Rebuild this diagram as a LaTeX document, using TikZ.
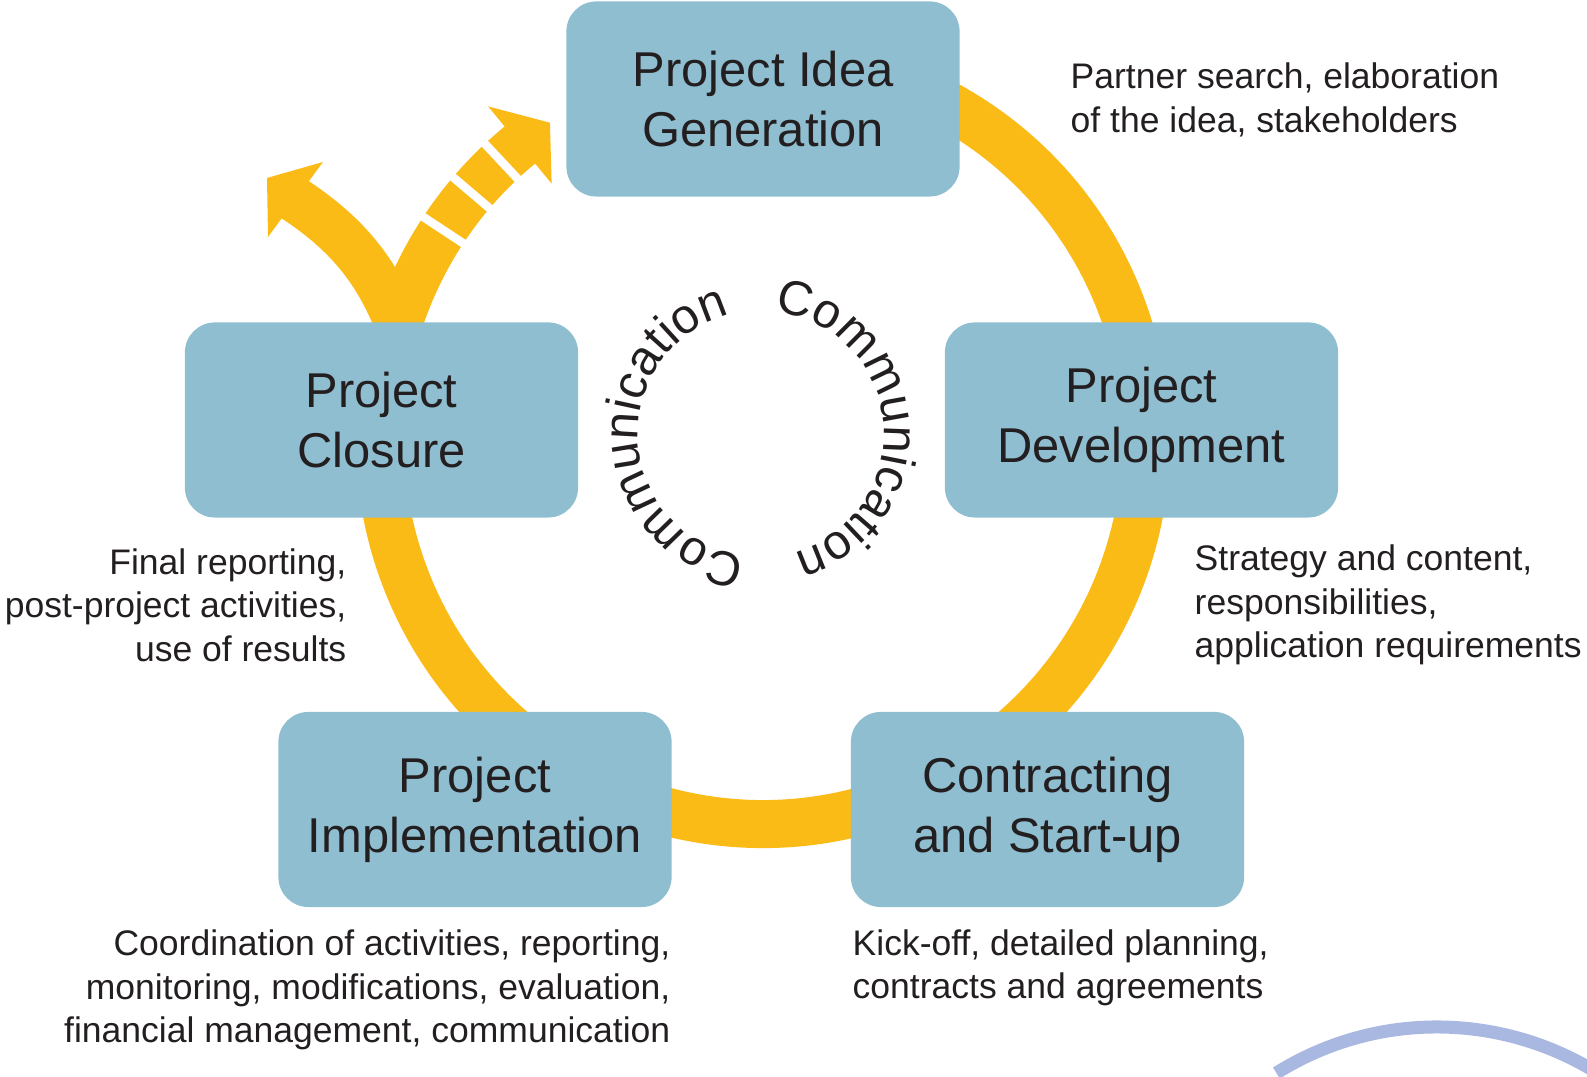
\documentclass[tikz,border=0pt]{standalone}
\usepackage{fontspec}
\setmainfont{Liberation Sans}
\usetikzlibrary{decorations.text}
\definecolor{boxblue}{RGB}{143,190,208}
\definecolor{ringyellow}{RGB}{250,187,22}
\definecolor{arcblue}{RGB}{169,184,225}
\definecolor{txt}{RGB}{35,31,32}
\begin{document}
\begin{tikzpicture}[x=0.01cm,y=0.01cm,
  phase/.style={fill=boxblue, rounded corners=0.3cm, minimum width=3.93cm, minimum height=1.95cm,
    align=center, text=txt, font=\fontsize{13.9}{17.1}\selectfont, inner sep=0pt},
  desc/.style={inner sep=0pt, text=txt, font=\fontsize{10.1}{12.4}\selectfont},
  ring/.style={draw=ringyellow, line width=0.48cm},
  branch/.style={draw=ringyellow, line width=0.46cm},
  gapline/.style={draw=white, line width=0.085cm},
  headfill/.style={fill=ringyellow},
  commtext/.style={decorate, decoration={text along path, text align=center, text color=txt,
    text={|\fontsize{13.9}{16}\selectfont|Communication}}}]
\useasboundingbox (0,0) rectangle (1587,1077);
% decorative arc bottom right
\begin{scope}
  \clip (0,0) rectangle (1587,1077);
  \draw[arcblue, line width=0.13cm] (1437,-253) ++(122:303) arc[start angle=122, end angle=40, radius=303];
\end{scope}
\coordinate (c) at (763,636);
% ring with dashed continuation
\begin{scope}[shift={(c)}]
  \draw[ring] (110:383) arc[start angle=110, end angle=-231, radius=383];
  \draw[gapline] (146.6:354) -- (146.6:412);
  \draw[gapline] (139.6:354) -- (139.6:412);
  \draw[gapline] (133.1:354) -- (133.1:412);
  \fill[headfill] (129.4:433) -- (123.8:383) -- (129.4:333) -- cycle;
\end{scope}
% branching arrow
\coordinate (bstart) at (406,730);
\coordinate (bend) at (294,878);
\draw[branch] (bstart) .. controls (384,796) and (355,838) .. (bend);
\fill[headfill] (323,915) -- (267,899) -- (268,840) -- cycle;
% communication text
\path[commtext] (761,643) ++(273.6:123) arc[start angle=273.6, end angle=93.6, radius=123];
\path[commtext] (761,643) ++(94.6:123) arc[start angle=94.6, end angle=-85.4, radius=123];
% phases
\node[phase] (idea) at (763,978) {Project Idea\\Generation};
\node[phase] (closure) at (381.5,657) {Project\\Closure};
\node[phase] (dev) at (1141.5,657) {Project\\Development};
\node[phase] (impl) at (475,267.5) {Project\\Implementation};
\node[phase] (contr) at (1047.5,267.5) {Contracting\\and Start-up};
% descriptions
\node[desc, anchor=west, align=left] (dIdea) at (1070,977) {Partner search, elaboration\\of the idea, stakeholders};
\node[desc, anchor=west, align=left] (dDev) at (1194,472) {Strategy and content,\\responsibilities,\\application requirements};
\node[desc, anchor=east, align=right] (dClo) at (347,472) {Final reporting,\\post-project activities,\\use of results};
\node[desc, anchor=east, align=right] (dImpl) at (671,87) {Coordination of activities, reporting,\\monitoring, modifications, evaluation,\\financial management, communication};
\node[desc, anchor=west, align=left] (dCon) at (852,109) {Kick-off, detailed planning,\\contracts and agreements};
\end{tikzpicture}
\end{document}
